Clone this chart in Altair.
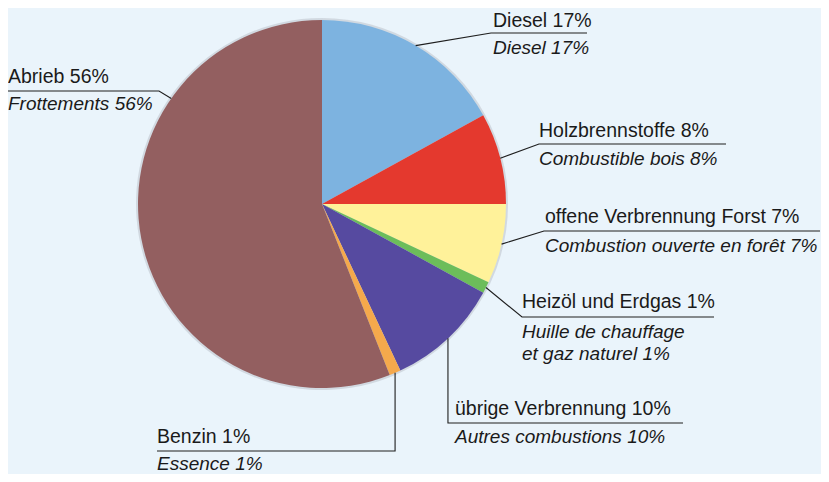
import math
import altair as alt
import pandas as pd

# ---------------- data ----------------
labels_de = ["Diesel", "Holzbrennstoffe", "offene Verbrennung Forst",
             "Heizöl und Erdgas", "übrige Verbrennung", "Benzin", "Abrieb"]
labels_fr = ["Diesel", "Combustible bois", "Combustion ouverte en forêt",
             "Huille de chauffage|et gaz naturel", "Autres combustions",
             "Essence", "Frottements"]
values = [17, 8, 7, 1, 10, 1, 56]

# ---------------- style / layout ----------------
colors = ["#7DB3E0", "#E4392E", "#FFF29A", "#6CBD5A", "#564AA0", "#F5A94C", "#935F60"]
BG = "#EAF4FB"
W, H = 813, 466
X0, Y0 = 12, 13          # reference point that lands at the chart's top-left
CX, CY, R = 326, 209, 184
FONT = "Liberation Sans"
FS_DE = 19.5
FS_FR = 19

angle_override = {6: 305}
elbows = [(495, 38), (543, 149), (548, 236), (526, 322), (None, 428), (None, 456), (163, 96)]
ends_x = [591, 730, 824, 718, 687, 161, 12]
de_pos = [(497, 32), (543, 142), (549, 228), (526, 313), (459, 420), (161, 448), (12, 88)]
fr_pos = [(497, 59), (543, 170), (549, 257), (526, 343), (459, 448), (161, 475), (12, 115)]
LINE_H = 22

# ---------------- tables ----------------
pie = pd.DataFrame({"de": labels_de, "value": values, "idx": range(len(values))})

total = sum(values)
rows_line, rows_de, rows_fr = [], [], []
cum = 0
for i, v in enumerate(values):
    mid = (cum + v / 2) / total * 360
    cum += v
    a = angle_override.get(i, mid)
    rx = CX + R * math.sin(math.radians(a))
    ry = CY - R * math.cos(math.radians(a))
    ex, ey = elbows[i]
    if ex is None:
        ex = rx
    pts = [(rx, ry), (ex, ey), (ends_x[i], ey)]
    for k, (px, py) in enumerate(pts):
        rows_line.append({"lab": labels_de[i], "o": k, "x": px, "y": py})
    rows_de.append({"t": f"{labels_de[i]} {v}%", "x": de_pos[i][0], "y": de_pos[i][1]})
    fr_lines = f"{labels_fr[i]} {v}%".split("|")
    for k, t in enumerate(fr_lines):
        rows_fr.append({"t": t, "x": fr_pos[i][0], "y": fr_pos[i][1] + k * LINE_H})

lines_df = pd.DataFrame(rows_line)
de_df = pd.DataFrame(rows_de)
fr_df = pd.DataFrame(rows_fr)

xs = alt.Scale(domain=[X0, X0 + W], range=[0, W], nice=False, zero=False)
ys = alt.Scale(domain=[Y0, Y0 + H], range=[0, H], nice=False, zero=False)

halo = alt.Chart(pie).mark_arc(outerRadius=R + 2, color="#b4b7c2", opacity=0.45).encode(
    theta=alt.Theta("value:Q", stack=True),
    order=alt.Order("idx:Q"),
    x=alt.value(CX - X0), y=alt.value(CY - Y0),
)

arcs = alt.Chart(pie).mark_arc(outerRadius=R).encode(
    theta=alt.Theta("value:Q", stack=True),
    order=alt.Order("idx:Q"),
    color=alt.Color("de:N", scale=alt.Scale(domain=labels_de, range=colors), legend=None),
    x=alt.value(CX - X0), y=alt.value(CY - Y0),
)

leaders = alt.Chart(lines_df).mark_line(color="#1e1e1e", strokeWidth=1.1).encode(
    x=alt.X("x:Q", scale=xs, axis=None),
    y=alt.Y("y:Q", scale=ys, axis=None),
    detail="lab:N",
    order="o:Q",
)

text_de = alt.Chart(de_df).mark_text(
    align="left", baseline="alphabetic", font=FONT, fontSize=FS_DE, color="#1a1a1a"
).encode(
    x=alt.X("x:Q", scale=xs, axis=None),
    y=alt.Y("y:Q", scale=ys, axis=None),
    text="t:N",
)

text_fr = alt.Chart(fr_df).mark_text(
    align="left", baseline="alphabetic", font=FONT, fontSize=FS_FR, fontStyle="italic", color="#1a1a1a"
).encode(
    x=alt.X("x:Q", scale=xs, axis=None),
    y=alt.Y("y:Q", scale=ys, axis=None),
    text="t:N",
)

chart = alt.layer(halo, arcs, leaders, text_de, text_fr).properties(
    width=W, height=H,
    autosize=alt.AutoSizeParams(type="none"),
    padding=0,
    background=BG,
).configure_view(stroke=None)

chart.save("out.html", embed_options={"renderer": "svg", "actions": False})
